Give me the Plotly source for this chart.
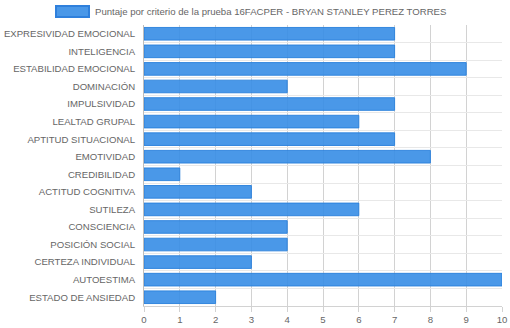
import plotly.graph_objects as go

categories = [
    "EXPRESIVIDAD EMOCIONAL", "INTELIGENCIA", "ESTABILIDAD EMOCIONAL", "DOMINACIÓN",
    "IMPULSIVIDAD", "LEALTAD GRUPAL", "APTITUD SITUACIONAL", "EMOTIVIDAD",
    "CREDIBILIDAD", "ACTITUD COGNITIVA", "SUTILEZA", "CONSCIENCIA",
    "POSICIÓN SOCIAL", "CERTEZA INDIVIDUAL", "AUTOESTIMA", "ESTADO DE ANSIEDAD",
]
values = [7, 7, 9, 4, 7, 6, 7, 8, 1, 3, 6, 4, 4, 3, 10, 2]
series_name = "Puntaje por criterio de la prueba 16FACPER - BRYAN STANLEY PEREZ TORRES"
x_ticks = list(range(0, 11))

W, H = 510, 328
ml, mr, mt, mb = 144, 8, 25, 22
FS = 9.6

fig = go.Figure()
fig.add_trace(go.Bar(
    y=categories, x=values, orientation="h", name=series_name,
    marker=dict(color="rgba(54,141,229,0.9)", line=dict(color="rgba(40,128,220,0.9)", width=1)),
    width=0.72, showlegend=False,
))

font = dict(family="Liberation Sans, Arial, sans-serif", size=FS, color="#666666")

fig.update_layout(
    width=W, height=H,
    margin=dict(l=ml, r=mr, t=mt, b=mb, autoexpand=False),
    paper_bgcolor="white", plot_bgcolor="white",
    font=font,
    xaxis=dict(range=[0, 10], tickvals=x_ticks, showgrid=True, gridcolor="#d2d2d2",
               gridwidth=1, zeroline=False, ticks="outside", ticklen=5, tickcolor="#d2d2d2",
               showline=True, linecolor="#d2d2d2", linewidth=1, mirror=False,
               automargin=False, ticklabelstandoff=-1,
               tickfont=dict(size=FS, color="#666666"), fixedrange=True),
    yaxis=dict(type="category", categoryorder="array", categoryarray=categories,
               autorange="reversed", tickson="boundaries", showgrid=True,
               gridcolor="#e8e8e8", gridwidth=1, ticks="", ticklen=0,
               showline=True, linecolor="#bdbdbd", linewidth=1, zeroline=False,
               automargin=False, ticklabelstandoff=6,
               tickfont=dict(size=FS, color="#666666"), fixedrange=True),
    bargap=0.28,
)

# legend drawn as box + text (Chart.js style)
box_l, box_r = 56, 89
box_t, box_b = 6, 17
fig.add_shape(type="rect", xref="paper", yref="paper",
              x0=(box_l - ml) / (W - ml - mr), x1=(box_r - ml) / (W - ml - mr),
              y0=1 + (mt - box_b) / (H - mt - mb), y1=1 + (mt - box_t) / (H - mt - mb),
              fillcolor="#4a98e8", line=dict(color="#2f80dc", width=2))
fig.add_annotation(text=series_name, xref="paper", yref="paper",
                   x=(93 - ml) / (W - ml - mr), y=1 + (mt - 11.5) / (H - mt - mb),
                   xanchor="left", yanchor="middle", showarrow=False,
                   font=dict(family="Liberation Sans, Arial, sans-serif", size=FS, color="#666666"))

fig.write_html("out.html")
